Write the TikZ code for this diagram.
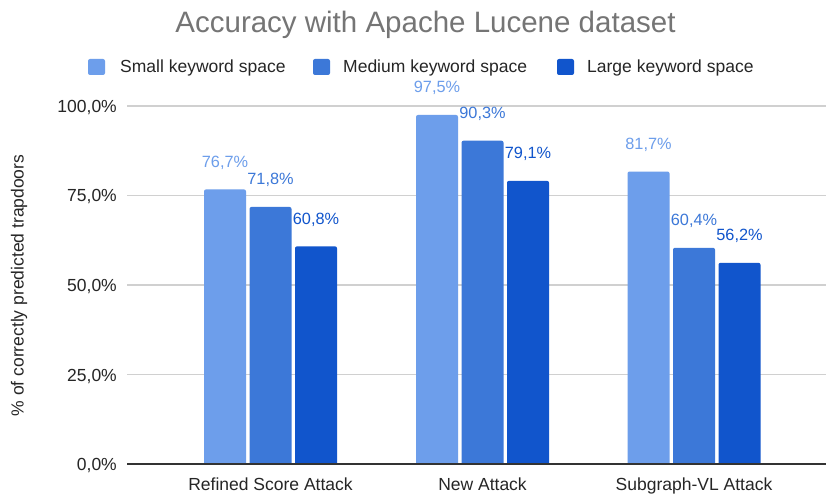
\documentclass[tikz,border=0pt]{standalone}
\usepackage{fontspec}
\setmainfont{Liberation Sans}
\begin{document}
\begin{tikzpicture}[x=1pt,y=-1pt,
  titletext/.style={font=\fontsize{29.5}{31}\selectfont, text=titlegray, inner sep=0pt},
  bodytext/.style={font=\fontsize{17.5}{19}\selectfont, text=textgray, inner sep=0pt},
  valtext/.style={font=\fontsize{16.3}{18}\selectfont, inner sep=0pt, anchor=base},
  grid line/.style={draw=gridgray, line width=1.1pt},
  axis line/.style={draw=axisgray, line width=1.4pt},
  keybox/.style={rounded corners=2pt},
]
\definecolor{sSmall}{HTML}{6D9EEB}
\definecolor{sMedium}{HTML}{3C78D8}
\definecolor{sLarge}{HTML}{1155CC}
\definecolor{titlegray}{HTML}{757575}
\definecolor{textgray}{HTML}{262626}
\definecolor{gridgray}{HTML}{D0D0D0}
\definecolor{axisgray}{HTML}{333333}

\useasboundingbox[fill=white] (0,0) rectangle (826,494);

% title
\node[titletext, anchor=base] (title) at (425.5,32.5) {Accuracy with Apache Lucene dataset};

% legend
\fill[sSmall, keybox]  (88,59)  rectangle (105,75);
\fill[sMedium, keybox] (313,59) rectangle (330,75);
\fill[sLarge, keybox]  (557,59) rectangle (574,75);
\node[bodytext, anchor=base west] (keySmall)  at (120,73) {Small keyword space};
\node[bodytext, anchor=base west] (keyMedium) at (343,73) {Medium keyword space};
\node[bodytext, anchor=base west] (keyLarge)  at (587,73) {Large keyword space};

% value axis: 0% at y=464, 3.58 units per percent
\foreach \v/\lab in {25/{25,0\%}, 50/{50,0\%}, 75/{75,0\%}, 100/{100,0\%}} {
  \coordinate (gl\v) at (127,{464-3.58*\v});
  \coordinate (gr\v) at (826,{464-3.58*\v});
  \draw[grid line] (gl\v) -- (gr\v);
  \node[bodytext, anchor=base east] (tick\v) at (117,{464-3.58*\v+6.5}) {\lab};
}
\node[bodytext, anchor=base east] (tick0) at (117,470.5) {0,0\%};
\node[bodytext, rotate=90] (ytitle) at (19,285.5) {\% of correctly predicted trapdoors};

% bars
\begin{scope}
\clip (0,0) rectangle (826,464);
\foreach \gx/\a/\b/\c/\la/\lb/\lc [count=\g] in {
    204/76.7/71.8/60.8/{76,7\%}/{71,8\%}/{60,8\%},
    416/97.5/90.3/79.1/{97,5\%}/{90,3\%}/{79,1\%},
    627.5/81.7/60.4/56.2/{81,7\%}/{60,4\%}/{56,2\%}} {
  \fill[sSmall,  rounded corners=2pt] (\gx,470)      rectangle ({\gx+42},{464-3.58*\a});
  \fill[sMedium, rounded corners=2pt] ({\gx+45.5},470) rectangle ({\gx+87.5},{464-3.58*\b});
  \fill[sLarge,  rounded corners=2pt] ({\gx+91},470)  rectangle ({\gx+133},{464-3.58*\c});
}
\end{scope}

% data labels
\foreach \gx/\a/\b/\c/\la/\lb/\lc [count=\g] in {
    204/76.7/71.8/60.8/{76,7\%}/{71,8\%}/{60,8\%},
    416/97.5/90.3/79.1/{97,5\%}/{90,3\%}/{79,1\%},
    627.5/81.7/60.4/56.2/{81,7\%}/{60,4\%}/{56,2\%}} {
  \node[valtext, text=sSmall]  (va\g) at ({\gx+21},{464-3.58*\a-22}) {\la};
  \node[valtext, text=sMedium] (vb\g) at ({\gx+66.5},{464-3.58*\b-22}) {\lb};
  \node[valtext, text=sLarge]  (vc\g) at ({\gx+112},{464-3.58*\c-22}) {\lc};
}

% category axis
\coordinate (axL) at (127,464);
\coordinate (axR) at (826,464);
\draw[axis line] (axL) -- (axR);
\node[bodytext, anchor=base] (cat1) at (270.5,490) {Refined Score Attack};
\node[bodytext, anchor=base] (cat2) at (482.5,490) {New Attack};
\node[bodytext, anchor=base] (cat3) at (694,490) {Subgraph-VL Attack};
\end{tikzpicture}
\end{document}
